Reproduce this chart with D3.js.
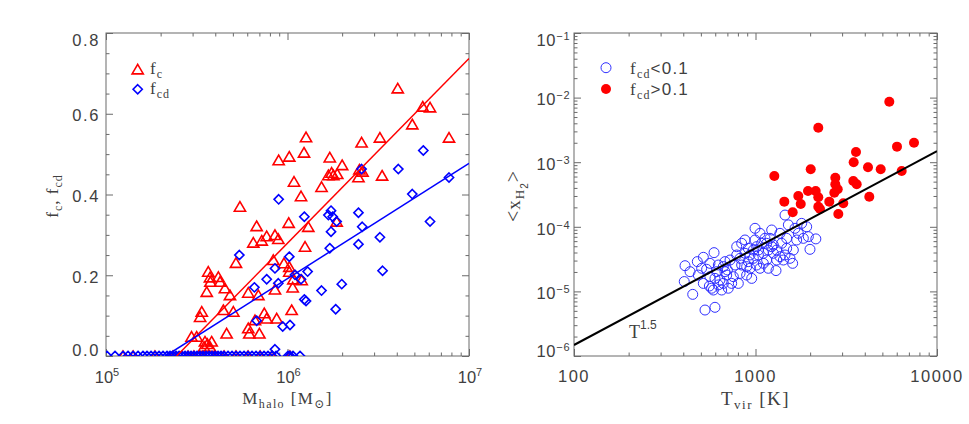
<!DOCTYPE html>
<html>
<head>
<meta charset="utf-8">
<style>
body { margin: 0; background: #fff; }
text { fill: #404040; }
</style>
</head>
<body>
<div id="chart"></div>
<script src="https://cdn.jsdelivr.net/npm/d3@7"></script>
<script>
// ---- left panel: cold gas fractions vs halo mass [Mhalo (Msun), f]
var fcPoints = [
  [4.05e6,0.663],[5.56e6,0.618],[6.10e6,0.616],[4.87e6,0.574],[7.76e6,0.541],[3.23e6,0.541],
  [2.56e6,0.529],[3.32e6,0.447],[2.49e6,0.462],[2.46e6,0.443],[2.59e6,0.457],[2.00e6,0.473],
  [1.71e6,0.492],[1.75e6,0.454],[1.68e6,0.448],[1.79e6,0.448],[1.88e6,0.451],[1.54e6,0.419],
  [1.265e6,0.542],[1.233e6,0.504],[1.023e6,0.494],[8.94e5,0.485],[1.086e6,0.432],[1.187e6,0.396],
  [1.015e6,0.330],[1.302e6,0.320],[1.249e6,0.271],[1.866e6,0.333],[5.47e5,0.370],[6.76e5,0.322],
  [6.48e5,0.281],[7.21e5,0.286],[7.68e5,0.297],[8.53e5,0.300],[8.90e5,0.290],[5.20e5,0.231],
  [8.35e5,0.238],[9.56e5,0.230],[1.023e6,0.221],[1.023e6,0.209],[1.077e6,0.190],[1.197e6,0.188],
  [8.53e5,0.165],[1.068e6,0.170],[1.054e6,0.114],[6.08e5,0.157],[6.91e5,0.151],[7.45e5,0.106],
  [7.68e5,0.093],[8.72e5,0.093],[6.62e5,0.089],[6.08e5,0.069],[6.16e5,0.056],[7.00e5,0.056],
  [4.62e5,0.056],[3.66e5,0.209],[3.74e5,0.195],[3.76e5,0.184],[4.16e5,0.196],[4.25e5,0.184],
  [3.59e5,0.159],[4.52e5,0.168],[4.82e5,0.151],[4.43e5,0.114],[5.03e5,0.110],[3.37e5,0.110],
  [3.30e5,0.097],[2.96e5,0.048],[3.16e5,0.048],[3.51e5,0.036],[3.62e5,0.030],[3.82e5,0.036],
  [3.74e5,0.023],[3.47e5,0.023]
];
// halos with no cold gas at all (f_c = 0)
var fcZeroMass = [1.24e5,1.41e5,1.86e5,2.34e5,2.83e5,3.05e5,3.42e5,3.99e5,4.47e5,5.20e5,6.06e5,7.06e5,8.21e5,1.03e6];

var fcdPoints = [
  [5.60e6,0.509],[4.08e6,0.463],[2.56e6,0.463],[4.87e6,0.401],[7.76e6,0.442],[6.10e6,0.333],
  [2.46e6,0.355],[2.58e6,0.320],[3.23e6,0.294],[2.46e6,0.277],[3.34e6,0.211],[1.737e6,0.360],
  [1.68e6,0.349],[1.774e6,0.345],[1.866e6,0.333],[1.737e6,0.308],[1.71e6,0.267],[1.99e6,0.178],
  [1.843e6,0.116],[1.54e6,0.162],[1.238e6,0.345],[8.94e5,0.388],[1.023e6,0.246],[8.53e5,0.217],
  [7.68e5,0.190],[8.90e5,0.180],[6.57e5,0.170],[5.43e5,0.250],[1.10e6,0.201],[1.187e6,0.190],
  [1.291e6,0.209],[1.238e6,0.140],[1.265e6,0.136],[6.76e5,0.0875],[9.41e5,0.073],[1.032e6,0.077],
  [8.53e5,0.0165]
];
var fcdZeroMass = [
  1.013e5,1.121e5,1.241e5,1.322e5,1.409e5,1.501e5,1.599e5,1.682e5,1.770e5,1.862e5,1.959e5,
  2.061e5,2.168e5,2.252e5,2.339e5,2.431e5,2.525e5,2.623e5,2.725e5,2.830e5,2.940e5,3.054e5,
  3.173e5,3.296e5,3.423e5,3.556e5,3.694e5,3.837e5,3.987e5,4.141e5,4.302e5,4.468e5,4.701e5,
  4.946e5,5.203e5,5.473e5,5.759e5,6.058e5,6.374e5,6.706e5,7.055e5,7.422e5,7.808e5,8.214e5,
  8.643e5,1.006e6,1.032e6,1.072e6,1.172e6
];

// linear fits in log M (end points)
var fcFit  = [[2.45e5, 0], [1e7, 0.737]];
var fcdFit = [[2.13e5, 0], [1e7, 0.477]];

// ---- right panel: mean H2 fraction vs virial temperature [Tvir (K), <x_H2>]
var lowPoints = [
  [409,2.50e-5],[405,1.42e-5],[451,9.0e-6],[527,5.15e-6],[598,5.67e-6],[478,2.89e-5],
  [516,3.37e-5],[591,3.98e-5],[538,2.20e-5],[561,1.69e-5],[624,2.56e-5],[557,1.21e-5],
  [573,1.12e-5],[651,1.05e-5],[679,2.02e-5],[700,2.15e-5],[694,1.79e-5],[637,1.50e-5],
  [739,1.33e-5],[804,1.33e-5],[822,1.90e-5],[771,2.56e-5],[839,2.56e-5],[839,5.55e-5],
  [788,3.66e-5],[875,3.89e-5],[913,2.89e-5],[933,2.28e-5],[973,4.37e-5],[994,6.25e-5],
  [994,9.47e-5],[1059,7.92e-5],[1082,5.55e-5],[1037,3.66e-5],[1105,3.89e-5],[1152,3.06e-5],
  [1177,4.37e-5],[1228,8.92e-5],[1202,6.63e-5],[1177,2.28e-5],[1297,2.10e-5],[1364,3.45e-5],
  [1394,5.55e-5],[1485,4.64e-5],[1517,1.07e-4],[1454,1.52e-4],[1549,3.25e-5],[1602,2.72e-5],
  [1686,6.25e-5],[1722,7.92e-5],[1796,1.13e-4],[1914,1.00e-4],[1955,7.04e-5],[1996,4.48e-5],
  [505,2.28e-5],[436,2.02e-5],[611,2.02e-5],[665,1.33e-5],[708,1.12e-5],[894,1.79e-5],
  [953,1.59e-5],[1015,4.93e-5],[1128,6.63e-5],[1308,4.37e-5],[1254,3.89e-5],[933,3.66e-5],
  [875,6.25e-5],[1485,6.63e-5],[1616,4.37e-5],[1835,6.63e-5],[679,2.89e-5],[586,1.05e-5],
  [516,1.33e-5],[624,1.26e-5],[755,1.69e-5],[1059,2.28e-5],[1105,2.72e-5],[1364,7.92e-5],
  [1424,3.06e-5],[1651,9.47e-5],[724,3.06e-5],[788,4.93e-5],[894,2.42e-5],[973,3.25e-5],
  [1015,2.56e-5],[1152,5.55e-5],[1254,5.23e-5],[1308,3.06e-5],[1454,3.66e-5],[665,2.42e-5],
  [598,1.59e-5],[822,3.25e-5],[1037,4.37e-5],[913,4.64e-5],[561,2.72e-5],[484,1.79e-5],
  [2150,6.5e-5],[1228,4.93e-5]
];
var highPoints = [
  [5460,8.64e-3],[2218,3.42e-3],[7470,2.00e-3],[6020,1.74e-3],[3578,1.44e-3],[3475,9.97e-4],
  [4167,8.34e-4],[4896,7.76e-4],[6390,7.31e-4],[2015,7.76e-4],[1270,6.11e-4],[2753,5.75e-4],
  [3458,5.12e-4],[3610,4.55e-4],[2753,4.55e-4],[2838,3.81e-4],[2718,3.37e-4],[1947,3.58e-4],
  [2146,3.58e-4],[2218,2.86e-4],[1721,3.00e-4],[1775,2.25e-4],[1441,2.45e-4],[2550,2.45e-4],
  [3045,2.31e-4],[4236,2.92e-4],[2218,2.05e-4],[2267,1.89e-4],[1603,1.68e-4],[2859,1.58e-4]
];
// T^1.5 reference line (end points)
var powerLaw = [[100, 1.48e-6], [1e4, 1.48e-3]];

var serif = '"Liberation Serif", "DejaVu Serif", serif';
var sans = '"Liberation Sans", "DejaVu Sans", sans-serif';
var axisColor = "#6a6a6a";

var svg = d3.select("#chart").append("svg").attr("width", 969).attr("height", 424);

// text made of pieces, each piece can be raised/lowered
function richText(parent, parts, x, y, anchor, transform, spacing) {
  var t = parent.append("text").attr("text-anchor", anchor || "start");
  if (transform) t.attr("transform", transform); else t.attr("x", x).attr("y", y);
  if (spacing) t.attr("letter-spacing", spacing);
  var shift = 0;
  parts.forEach(function (p) {
    var s = t.append("tspan").text(p.t)
      .attr("font-size", p.size || 16)
      .attr("font-family", p.sans ? sans : serif);
    var target = p.dy || 0;
    if (target !== shift) { s.attr("dy", target - shift); shift = target; }
  });
  return t;
}

function frame(g, x, y, id) {
  var x0 = x.range()[0], x1 = x.range()[1], y0 = y.range()[1], y1 = y.range()[0];
  svg.append("clipPath").attr("id", id).append("rect")
    .attr("x", x0).attr("y", y0).attr("width", x1 - x0).attr("height", y1 - y0);
  g.append("rect").attr("x", x0).attr("y", y0).attr("width", x1 - x0).attr("height", y1 - y0)
    .attr("fill", "none").attr("stroke", axisColor).attr("stroke-width", 1);
}

// ticks on all four sides, pointing inward
function ticks(g, x, y, xMajor, xMinor, yMajor, yMinor) {
  var x0 = x.range()[0], x1 = x.range()[1], y0 = y.range()[1], y1 = y.range()[0];
  [[xMajor, 7], [xMinor, 3.5]].forEach(function (d) {
    g.append("g").attr("transform", "translate(0," + y1 + ")")
      .call(d3.axisBottom(x).tickValues(d[0]).tickSize(-d[1]).tickFormat(""));
    g.append("g").attr("transform", "translate(0," + y0 + ")")
      .call(d3.axisTop(x).tickValues(d[0]).tickSize(-d[1]).tickFormat(""));
  });
  [[yMajor, 7], [yMinor, 3.5]].forEach(function (d) {
    g.append("g").attr("transform", "translate(" + x0 + ",0)")
      .call(d3.axisLeft(y).tickValues(d[0]).tickSize(-d[1]).tickFormat(""));
    g.append("g").attr("transform", "translate(" + x1 + ",0)")
      .call(d3.axisRight(y).tickValues(d[0]).tickSize(-d[1]).tickFormat(""));
  });
  g.selectAll(".domain").remove();
  g.selectAll(".tick line").attr("stroke", axisColor);
}

function decadeMinors(lo, hi) {
  var out = [];
  for (var e = lo; e < hi; e *= 10) for (var k = 2; k <= 9; k++) out.push(k * e);
  return out;
}

var triPath = "M0,-5L5.6,4.6L-5.6,4.6Z";
var diaPath = "M0,-4.6L4.6,0L0,4.6L-4.6,0Z";

// ================= left panel =================
var xM = d3.scaleLog().domain([1e5, 1e7]).range([106, 469]);
var yF = d3.scaleLinear().domain([0, 0.8]).range([356, 33]);
var gL = svg.append("g");
frame(gL, xM, yF, "clipL");
ticks(gL, xM, yF, [1e5, 1e6, 1e7], decadeMinors(1e5, 1e7),
  [0, 0.2, 0.4, 0.6, 0.8], d3.range(0.05, 0.8, 0.05).filter(function (v) { return Math.abs(v * 5 - Math.round(v * 5)) > 1e-6; }));

var pL = gL.append("g").attr("clip-path", "url(#clipL)");
var fcAll = fcPoints.concat(fcZeroMass.map(function (m) { return [m, 0]; }));
var fcdAll = fcdPoints.concat(fcdZeroMass.map(function (m) { return [m, 0]; }));
pL.selectAll(".tri").data(fcAll).enter().append("path").attr("class", "tri")
  .attr("d", triPath)
  .attr("transform", function (d) { return "translate(" + xM(d[0]) + "," + yF(d[1]) + ")"; })
  .attr("fill", "none").attr("stroke", "#ff0000").attr("stroke-width", 1.6);
pL.selectAll(".dia").data(fcdAll).enter().append("path").attr("class", "dia")
  .attr("d", diaPath)
  .attr("transform", function (d) { return "translate(" + xM(d[0]) + "," + yF(d[1]) + ")"; })
  .attr("fill", "none").attr("stroke", "#0000ff").attr("stroke-width", 1.6);
var lineL = d3.line().x(function (d) { return xM(d[0]); }).y(function (d) { return yF(d[1]); });
pL.append("path").attr("d", lineL(fcFit)).attr("stroke", "#ff0000").attr("stroke-width", 1.5).attr("fill", "none");
pL.append("path").attr("d", lineL(fcdFit)).attr("stroke", "#0000ff").attr("stroke-width", 1.5).attr("fill", "none");

// tick labels
[0, 0.2, 0.4, 0.6, 0.8].forEach(function (v) {
  var c = Math.max(40.5, Math.min(350.5, yF(v) + 1.5));
  gL.append("text").attr("x", 100).attr("y", c + 5.8).attr("text-anchor", "end")
    .attr("font-family", sans).attr("font-size", 16.5).attr("letter-spacing", 1.6).text(v.toFixed(1));
});
[[1e5, "5"], [1e6, "6"], [1e7, "7"]].forEach(function (d) {
  richText(gL, [{ t: "10", sans: true, size: 16.5 }, { t: d[1], sans: true, size: 11, dy: -7 }], xM(d[0]) + 1, 383, "middle");
});

// axis titles
richText(gL, [{ t: "M", size: 17 }, { t: "halo", size: 12, dy: 4 }, { t: " [M", size: 17 }, { t: "\u2299", size: 12, dy: 4 }, { t: "]", size: 17 }],
  0, 0, "middle", "translate(287.5,404)", 1.4);
richText(gL, [{ t: "f", size: 17 }, { t: "c", size: 12, dy: 4 }, { t: ",  f", size: 17 }, { t: "cd", size: 12, dy: 4 }],
  0, 0, "middle", "translate(58,196) rotate(-90)", 1);

// legend
gL.append("path").attr("d", triPath).attr("transform", "translate(137.7,69.3)")
  .attr("fill", "none").attr("stroke", "#ff0000").attr("stroke-width", 1.6);
gL.append("path").attr("d", diaPath).attr("transform", "translate(137.7,89.3)")
  .attr("fill", "none").attr("stroke", "#0000ff").attr("stroke-width", 1.6);
richText(gL, [{ t: "f", size: 17 }, { t: "c", size: 12, dy: 4 }], 150, 74, null, null, 1);
richText(gL, [{ t: "f", size: 17 }, { t: "cd", size: 12, dy: 4 }], 150, 94, null, null, 1);

// ================= right panel =================
var xT = d3.scaleLog().domain([100, 1e4]).range([574, 937]);
var yX = d3.scaleLog().domain([1e-6, 1e-1]).range([356, 33]);
var gR = svg.append("g");
frame(gR, xT, yX, "clipR");
ticks(gR, xT, yX, [100, 1000, 10000], decadeMinors(100, 1e4),
  [1e-6, 1e-5, 1e-4, 1e-3, 1e-2, 1e-1], decadeMinors(1e-6, 1e-1));

var pR = gR.append("g").attr("clip-path", "url(#clipR)");
pR.selectAll(".lo").data(lowPoints).enter().append("circle").attr("class", "lo")
  .attr("cx", function (d) { return xT(d[0]); }).attr("cy", function (d) { return yX(d[1]); })
  .attr("r", 5).attr("fill", "none").attr("stroke", "#3030ff").attr("stroke-width", 1);
pR.selectAll(".hi").data(highPoints).enter().append("circle").attr("class", "hi")
  .attr("cx", function (d) { return xT(d[0]); }).attr("cy", function (d) { return yX(d[1]); })
  .attr("r", 5).attr("fill", "#ff0000");
var lineR = d3.line().x(function (d) { return xT(d[0]); }).y(function (d) { return yX(d[1]); });
pR.append("path").attr("d", lineR(powerLaw)).attr("stroke", "#000").attr("stroke-width", 2).attr("fill", "none");

[[1e-1, "\u22121"], [1e-2, "\u22122"], [1e-3, "\u22123"], [1e-4, "\u22124"], [1e-5, "\u22125"], [1e-6, "\u22126"]].forEach(function (d) {
  var c = Math.max(40, Math.min(350.8, yX(d[0]) + 2));
  richText(gR, [{ t: "10", sans: true, size: 16.5 }, { t: d[1], sans: true, size: 11, dy: -6 }], 570.5, c + 5.8, "end", null, 0.8);
});
[100, 1000, 10000].forEach(function (v) {
  gR.append("text").attr("x", xT(v)).attr("y", 382).attr("text-anchor", "middle")
    .attr("font-family", sans).attr("font-size", 16.5).attr("letter-spacing", 1.5).text(v);
});

richText(gR, [{ t: "T", size: 19 }, { t: "vir", size: 13, dy: 4 }, { t: " [K]", size: 19 }], 0, 0, "middle", "translate(755.5,405)", 1.5);
richText(gR, [{ t: "<", size: 20 }, { t: "x", size: 19 }, { t: "H", size: 13, dy: 4 }, { t: "2", size: 10, dy: 8, sans: true }, { t: ">", size: 20, dy: 0 }],
  0, 0, "middle", "translate(520,196) rotate(-90)", 1);
richText(gR, [{ t: "T", size: 18 }, { t: "1.5", sans: true, size: 12, dy: -9 }], 629, 338);

// legend
gR.append("circle").attr("cx", 606).attr("cy", 67.7).attr("r", 5)
  .attr("fill", "none").attr("stroke", "#3030ff").attr("stroke-width", 1);
gR.append("circle").attr("cx", 606).attr("cy", 89).attr("r", 5).attr("fill", "#ff0000");
richText(gR, [{ t: "f", size: 17 }, { t: "cd", size: 12, dy: 4 }, { t: "<0.1", sans: true, size: 17, dy: 0 }], 630, 74, null, null, 1.2);
richText(gR, [{ t: "f", size: 17 }, { t: "cd", size: 12, dy: 4 }, { t: ">0.1", sans: true, size: 17, dy: 0 }], 630, 95, null, null, 1.2);
</script>
</body>
</html>
